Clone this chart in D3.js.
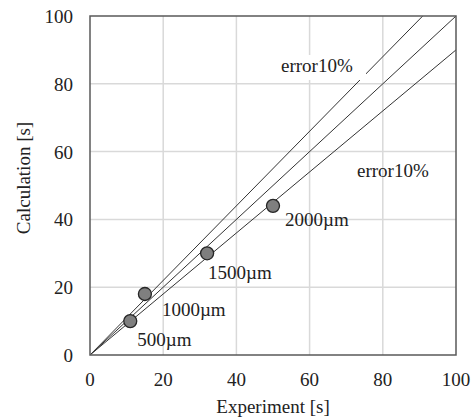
<!DOCTYPE html>
<html>
<head>
<meta charset="utf-8">
<script src="https://cdn.jsdelivr.net/npm/d3@7"></script>
<style>
  body { margin: 0; background: #fff; }
  svg text { font-family: "Liberation Serif", "Times New Roman", serif; fill: #222; font-size: 19px; }
</style>
</head>
<body>
<svg width="476" height="418"></svg>
<script>
var experiment  = [11, 15, 32, 50];
var calculation = [10, 18, 30, 44];
var sizeLabels  = ["500µm", "1000µm", "1500µm", "2000µm"];
var ticks       = [0, 20, 40, 60, 80, 100];
var ratios      = [1.1, 1.0, 0.9];

var width = 476, height = 418;
var margin = {left: 90, top: 16, right: 20, bottom: 63};

var x = d3.scaleLinear().domain([0, 100]).range([margin.left, width - margin.right]);
var y = d3.scaleLinear().domain([0, 100]).range([height - margin.bottom, margin.top]);

var svg = d3.select("svg");

// grid
svg.append("g").selectAll("line")
  .data(ticks.slice(1, -1))
  .enter().append("line")
  .attr("x1", d => x(d)).attr("x2", d => x(d))
  .attr("y1", y(0)).attr("y2", y(100))
  .attr("stroke", "#d9d9d9").attr("stroke-width", 1.5);
svg.append("g").selectAll("line")
  .data(ticks.slice(1, -1))
  .enter().append("line")
  .attr("y1", d => y(d)).attr("y2", d => y(d))
  .attr("x1", x(0)).attr("x2", x(100))
  .attr("stroke", "#d9d9d9").attr("stroke-width", 1.5);

// reference lines y = r*x, clipped to the box
svg.append("g").selectAll("line")
  .data(ratios)
  .enter().append("line")
  .attr("x1", x(0)).attr("y1", y(0))
  .attr("x2", d => x(Math.min(100, 100 / d)))
  .attr("y2", d => y(Math.min(100, 100 * d)))
  .attr("stroke", "#333").attr("stroke-width", 1);

// frame
svg.append("rect")
  .attr("x", x(0)).attr("y", y(100))
  .attr("width", x(100) - x(0)).attr("height", y(0) - y(100))
  .attr("fill", "none").attr("stroke", "#595959").attr("stroke-width", 1.5);

// error labels (white box breaks the line as in the original)
svg.append("rect")
  .attr("x", 278).attr("y", 55).attr("width", 88).attr("height", 25)
  .attr("fill", "#fff");
svg.append("text").attr("x", 281).attr("y", 72).text("error10%");
svg.append("text").attr("x", 357).attr("y", 177).text("error10%");

// points
svg.append("g").selectAll("circle")
  .data(experiment)
  .enter().append("circle")
  .attr("cx", d => x(d))
  .attr("cy", (d, i) => y(calculation[i]))
  .attr("r", 6.5)
  .attr("fill", "#7f7f7f").attr("stroke", "#262626").attr("stroke-width", 1.3);

// point labels
var labelOffsets = [[7, 25], [17, 22], [1, 26], [12, 20]];
svg.append("g").selectAll("text")
  .data(sizeLabels)
  .enter().append("text")
  .attr("x", (d, i) => x(experiment[i]) + labelOffsets[i][0])
  .attr("y", (d, i) => y(calculation[i]) + labelOffsets[i][1])
  .text(d => d);

// tick labels
svg.append("g").selectAll("text")
  .data(ticks)
  .enter().append("text")
  .attr("x", margin.left - 17)
  .attr("y", d => y(d) + 7)
  .attr("text-anchor", "end")
  .text(d => d);
svg.append("g").selectAll("text")
  .data(ticks)
  .enter().append("text")
  .attr("x", d => x(d))
  .attr("y", y(0) + 31)
  .attr("text-anchor", "middle")
  .text(d => d);

// axis titles
svg.append("text")
  .attr("transform", "translate(30,178) rotate(-90)")
  .attr("text-anchor", "middle")
  .text("Calculation [s]");
svg.append("text")
  .attr("x", (x(0) + x(100)) / 2)
  .attr("y", 413)
  .attr("text-anchor", "middle")
  .text("Experiment [s]");
</script>
</body>
</html>
